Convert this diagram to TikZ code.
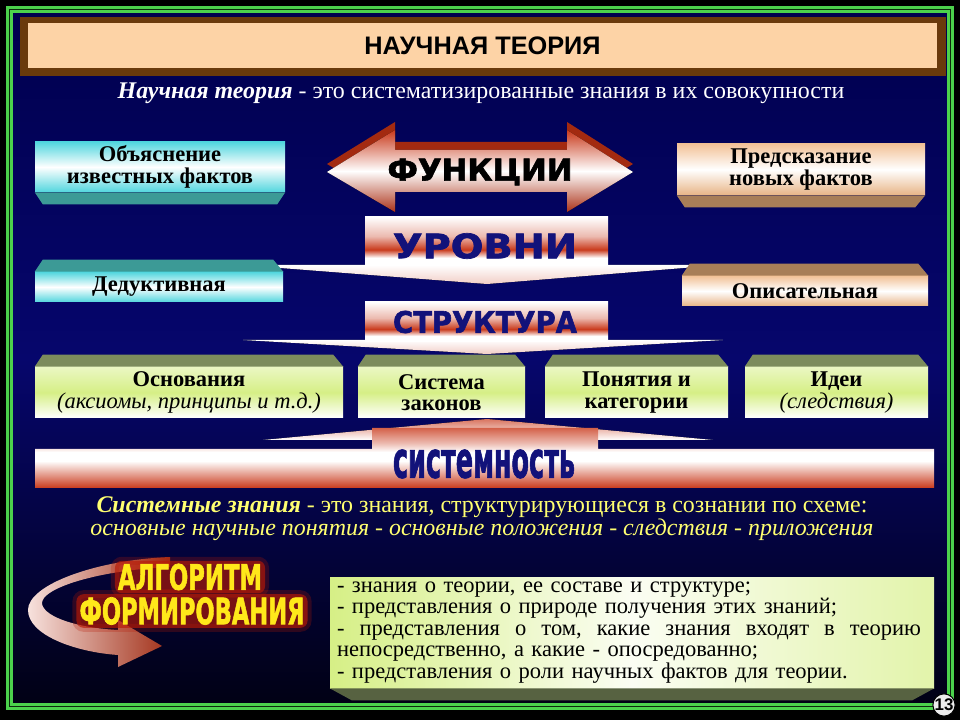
\documentclass[tikz,border=0pt]{standalone}
\usepackage{fontspec}
\setmainfont{Liberation Serif}
\newfontfamily\titlefont{Liberation Sans}
\newfontfamily\heavyfont[FakeBold=2]{DejaVu Sans}
\usepackage{graphicx}
\usetikzlibrary{positioning,arrows.meta,calc}

\definecolor{navytop}{HTML}{00004E}
\definecolor{navymid}{HTML}{06066C}
\definecolor{navybot}{HTML}{010114}
\definecolor{framegreen}{HTML}{4CD24C}
\definecolor{framedark}{HTML}{0E2A0E}
\definecolor{titlebrown}{HTML}{6A3A0C}
\definecolor{titlepeach}{HTML}{FDD3A6}
\definecolor{boxcyan}{HTML}{52D6DE}
\definecolor{bevelteal}{HTML}{3C9A96}
\definecolor{boxpeach}{HTML}{F2C298}
\definecolor{beveltan}{HTML}{A87E58}
\definecolor{boxlime}{HTML}{D6EF86}
\definecolor{bevelolive}{HTML}{7C8C5C}
\definecolor{bandred}{HTML}{C93A1C}
\definecolor{arrowdark}{HTML}{A32A10}
\definecolor{wordnavy}{HTML}{12127A}
\definecolor{noteyellow}{HTML}{FFFF70}
\definecolor{glowred}{HTML}{B81A06}
\definecolor{glowyellow}{HTML}{FFE81A}

\newlength\pxu
\setlength\pxu{0.025cm}

% shaded bands (path maps to 25bp..75bp)
\pgfdeclareverticalshading{redband}{100bp}{color(0bp)=(white); color(25bp)=(white); color(32.5bp)=(white); color(41bp)=(bandred); color(55bp)=(bandred!35!white); color(75bp)=(white); color(100bp)=(white)}
\pgfdeclareverticalshading{sysband}{100bp}{color(0bp)=(bandred); color(25bp)=(bandred); color(37.5bp)=(bandred!45!white); color(47.5bp)=(white); color(55bp)=(white); color(62.5bp)=(bandred!35!white); color(75bp)=(bandred!80!white); color(100bp)=(bandred!80!white)}

\begin{document}
\begin{tikzpicture}[x=0.025cm, y=-0.025cm, >=Latex]

\tikzset{
  slidebox/.style={
    rectangle, align=center, inner sep=1pt, text=black,
    font=\bfseries\fontsize{16}{15.2}\selectfont
  },
  cyanbox/.style={slidebox, top color=boxcyan, bottom color=boxcyan, middle color=white},
  peachbox/.style={slidebox, top color=boxpeach, bottom color=boxpeach!80!brown, middle color=white},
  limebox/.style={slidebox, top color=white!50!boxlime, bottom color=white, middle color=boxlime,
    minimum height=51\pxu},
  band/.style={shade, shading=redband, inner sep=0pt, minimum width=243\pxu},
  pointer/.style={top color=white, bottom color=white!75!bandred},
  bigword/.style={inner sep=0pt, font=\heavyfont\bfseries},
  glowword/.style={bigword, text=glowyellow, inner sep=3\pxu, rounded corners=7\pxu,
    fill=glowred, fill opacity=0.65, text opacity=1,
    preaction={draw=glowred, draw opacity=0.25, line width=8\pxu}},
  titlebar/.style={fill=titlepeach, minimum width=909\pxu, minimum height=45\pxu,
    inner sep=0pt, font=\titlefont\bfseries\fontsize{18}{20}\selectfont},
  subtitle/.style={text=white, inner sep=0pt, font=\fontsize{17}{18}\selectfont},
  notes/.style={text=noteyellow, align=center, inner sep=0pt, font=\fontsize{17}{16.4}\selectfont},
  listbox/.style={left color=boxlime, right color=boxlime!70!white, middle color=white!90!boxlime,
    text width=590\pxu, align=left, inner sep=0pt, minimum height=111\pxu,
    font=\fontsize{16}{15.2}\selectfont},
  badge/.style={circle, fill=white!85!gray, draw=black, line width=1\pxu, inner sep=0pt,
    minimum size=20\pxu, font=\titlefont\bfseries\fontsize{12}{12}\selectfont}
}

\useasboundingbox (0,0) rectangle (960,720);

% ---- background and frame
\fill[black] (0,0) rectangle (960,720);
\fill[top color=navytop, bottom color=navybot, middle color=navymid] (12,12) rectangle (948,706);
\draw[line width=7\pxu, framegreen] (9.5,9.5) rectangle (950.5,706.5);
\draw[line width=1.6\pxu, framedark] (9.5,9.5) rectangle (950.5,706.5);

% ---- title
\fill[titlebrown] (20,17) rectangle (946,76);
\node[titlebar] (title) at (482.5,45.5) {НАУЧНАЯ ТЕОРИЯ};
\node[subtitle] (def) at (481,93)
  {\textbf{\textit{Научная теория}} - это систематизированные знания в их совокупности};

% ---- functions
\fill[arrowdark] (327,164) -- (395,122) -- (395,142) -- (567,142) -- (567,122) -- (633,164)
  -- (567,204) -- (567,184) -- (395,184) -- (395,204) -- cycle;
\fill[top color=bandred, bottom color=bandred!85!black, middle color=white]
  (327,172) -- (395,130) -- (395,150) -- (567,150) -- (567,130) -- (633,172)
  -- (567,212) -- (567,192) -- (395,192) -- (395,212) -- cycle;
\node[bigword, text=black] (func) at (480,172)
  {\resizebox{185\pxu}{22\pxu}{ФУНКЦИИ}};

\node[cyanbox, minimum width=250\pxu, minimum height=50\pxu] (expl) at (160,167)
  {Объяснение\\известных фактов};
\fill[bevelteal] (expl.south west) -- (expl.south east) -- ($(expl.south east)+(-8,12)$)
  -- ($(expl.south west)+(8,12)$) -- cycle;

\node[peachbox, minimum width=248\pxu, minimum height=51\pxu] (pred) at (801,169.5)
  {Предсказание\\новых фактов};
\fill[beveltan] (pred.south west) -- (pred.south east) -- ($(pred.south east)+(-10,12)$)
  -- ($(pred.south west)+(8,12)$) -- cycle;

% ---- levels
\fill[pointer] (242,265) -- (720,265) -- (487,284) -- cycle;
\node[band, minimum height=48\pxu] (levels) at (486.5,241) {};
\node[bigword, text=wordnavy] (levelsword) at (485,246)
  {\resizebox{184\pxu}{25\pxu}{УРОВНИ}};

\node[cyanbox, minimum width=248\pxu, minimum height=30\pxu] (deduct) at (159,287) {Дедуктивная};
\fill[bevelteal] (deduct.north west) -- ($(deduct.north west)+(8,-12)$)
  -- ($(deduct.north east)+(-10,-12)$) -- (deduct.north east) -- cycle;

\node[peachbox, minimum width=246\pxu, minimum height=30\pxu] (descr) at (805,291) {Описательная};
\fill[beveltan] (descr.north west) -- ($(descr.north west)+(8,-12)$)
  -- ($(descr.north east)+(-10,-12)$) -- (descr.north east) -- cycle;

% ---- structure
\fill[pointer] (243,340) -- (723,340) -- (487,354) -- cycle;
\node[band, minimum height=40\pxu] (struct) at (486.5,322) {};
\node[bigword, text=wordnavy] (structword) at (485,322)
  {\resizebox{184\pxu}{22\pxu}{СТРУКТУРА}};

\node[limebox, minimum width=308\pxu] (base) at (189,392.5)
  {Основания\\{\mdseries\itshape (аксиомы, принципы и т.д.)}};
\node[limebox, minimum width=167\pxu] (laws) at (441.5,392.5) {Система\\законов};
\node[limebox, minimum width=183\pxu] (concepts) at (636.5,392.5) {Понятия и\\категории};
\node[limebox, minimum width=183\pxu] (ideas) at (836.5,392.5)
  {Идеи\\{\mdseries\itshape (следствия)}};
\foreach \b in {base,laws,concepts,ideas}
  \fill[bevelolive] (\b.north west) -- ($(\b.north west)+(8,-12)$)
    -- ($(\b.north east)+(-10,-12)$) -- (\b.north east) -- cycle;

% ---- system
\fill[top color=bandred!70!white, bottom color=white] (263,440) -- (487,419) -- (713,440) -- cycle;
\shade[shading=sysband] (35,488) -- (35,449) -- (372,449) -- (372,428) -- (598,428)
  -- (598,449) -- (934,449) -- (934,488) -- cycle;
\node[bigword, text=wordnavy] (sysword) at (484,464)
  {\resizebox{182\pxu}{28\pxu}{системность}};

\node[notes] (sysdef) at (482,519)
  {\textbf{\textit{Системные знания}} - это знания, структурирующиеся в сознании по схеме:\\
   \textit{основные научные понятия - основные положения - следствия - приложения}};

% ---- algorithm
\shade[left color=white!85!bandred, right color=bandred!80!black]
  (170,557) .. controls (95,560) and (28,585) .. (28,610)
  .. controls (28,635) and (75,652) .. (118,655) -- (118,667) -- (162,646) -- (118,620)
  -- (118,630) .. controls (80,628) and (45,618) .. (42,604)
  .. controls (40,588) and (100,570) .. (170,567) -- cycle;
\node[glowword] (alg1) at (190,577)
  {\resizebox{144\pxu}{26\pxu}{АЛГОРИТМ}};
\node[glowword] (alg2) at (192,611)
  {\resizebox{225\pxu}{27\pxu}{ФОРМИРОВАНИЯ}};

\node[listbox, minimum width=604\pxu] (facts) at (632,632.5)
  {- знания о теории, ее составе и структуре;\\
   - представления о природе получения этих знаний;\\
   \makebox[584\pxu][l]{-\hfill представления\hfill о\hfill том,\hfill какие\hfill знания\hfill входят\hfill в\hfill теорию}\\
   непосредственно, а какие - опосредованно;\\
   - представления о роли научных фактов для теории.};
\fill[bevelolive!70!black] (facts.south west) -- (facts.south east)
  -- ($(facts.south east)+(-22,12)$) -- ($(facts.south west)+(22,12)$) -- cycle;

\node[badge] (slide) at (944,705) {13};

\end{tikzpicture}
\end{document}
